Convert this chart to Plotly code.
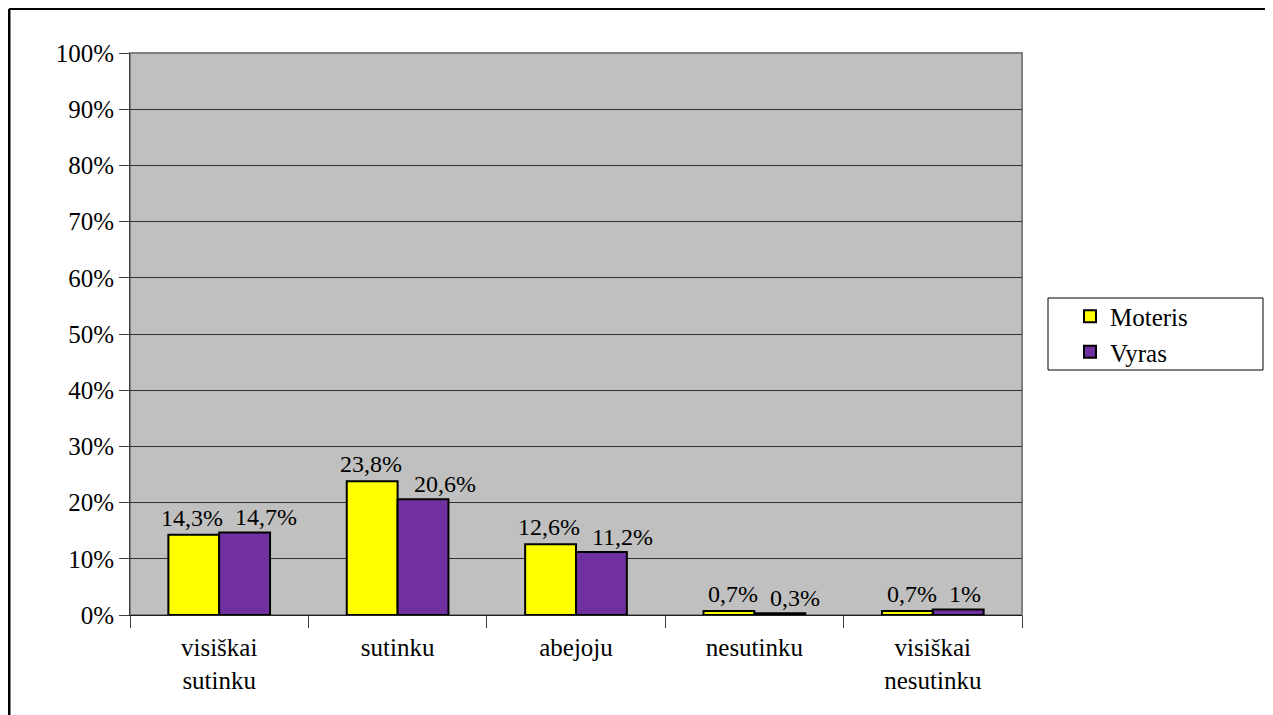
import plotly.graph_objects as go

categories = ["visiškai<br>sutinku", "sutinku", "abejoju", "nesutinku", "visiškai<br>nesutinku"]
moteris = [14.3, 23.8, 12.6, 0.7, 0.7]
vyras = [14.7, 20.6, 11.2, 0.3, 1.0]
y_ticks = list(range(0, 101, 10))
y_tick_labels = [f"{v}%" for v in y_ticks]

def lbl(vals):
    return [f"{v:g}".replace(".", ",") + "%" for v in vals]

FONT = "Liberation Serif"
OFF = 8  # page body margin
W, H = 1265, 707
L, R, T, B = 130 - OFF, 251, 53 - OFF, 100
pw, ph = W - L - R, H - T - B

def px_x(p):
    return (p - OFF - L) / pw

def px_y(p):
    return (H - B - (p - OFF)) / ph

fig = go.Figure()
fig.add_trace(go.Bar(
    name="Moteris", x=categories, y=moteris,
    marker=dict(color="#FFFF00", line=dict(color="black", width=2)),
))
fig.add_trace(go.Bar(
    name="Vyras", x=categories, y=vyras,
    marker=dict(color="#7030A0", line=dict(color="black", width=2)),
))

annotations = []
for c, v, t in zip(categories, moteris, lbl(moteris)):
    annotations.append(dict(x=c, y=v, xref="x", yref="y", text=t, showarrow=False,
                            xanchor="right", yanchor="bottom", xshift=6, yshift=2,
                            font=dict(family=FONT, size=24, color="black")))
for c, v, t in zip(categories, vyras, lbl(vyras)):
    annotations.append(dict(x=c, y=v, xref="x", yref="y", text=t, showarrow=False,
                            xanchor="left", yanchor="bottom", xshift=14, yshift=0,
                            font=dict(family=FONT, size=24, color="black")))

fig.update_layout(
    width=W, height=H,
    margin=dict(l=L, r=R, t=T, b=B, autoexpand=False),
    paper_bgcolor="white", plot_bgcolor="#C0C0C0",
    barmode="group", bargap=0.43, bargroupgap=0,
    font=dict(family=FONT, size=24, color="black"),
    showlegend=True,
    legend=dict(
        x=px_x(1048), y=px_y(334), xanchor="left", yanchor="middle",
        bgcolor="rgba(0,0,0,0)", borderwidth=0,
        font=dict(family=FONT, size=25, color="black"),
        itemwidth=30, tracegroupgap=0, indentation=22,
    ),
    xaxis=dict(
        showgrid=False, showline=True, linecolor="#202020", linewidth=1,
        ticks="outside", tickson="boundaries", ticklen=12, tickcolor="#404040",
        ticklabelstandoff=10,
        tickfont=dict(family=FONT, size=25, color="black"),
    ),
    yaxis=dict(
        range=[0, 100], tickvals=y_ticks, ticktext=y_tick_labels,
        showgrid=True, gridcolor="#303030", gridwidth=1,
        showline=True, linecolor="#404040", linewidth=1,
        ticks="outside", ticklen=10, tickcolor="#404040",
        tickfont=dict(family=FONT, size=25, color="black"),
        zeroline=False,
    ),
    annotations=annotations,
    shapes=[
        dict(type="rect", xref="paper", yref="paper", x0=0, x1=1, y0=0, y1=1,
             line=dict(color="#808080", width=2), layer="below"),
        dict(type="rect", xref="paper", yref="paper",
             x0=px_x(1048), x1=px_x(1263), y0=px_y(370), y1=px_y(298),
             line=dict(color="black", width=1), fillcolor="white", layer="below"),
        dict(type="line", xref="paper", yref="paper",
             x0=px_x(9), x1=px_x(9), y0=px_y(720), y1=px_y(9),
             line=dict(color="black", width=3)),
        dict(type="line", xref="paper", yref="paper",
             x0=px_x(9), x1=px_x(1280), y0=px_y(9), y1=px_y(9),
             line=dict(color="black", width=2)),
    ],
)

fig.write_html("out.html")
